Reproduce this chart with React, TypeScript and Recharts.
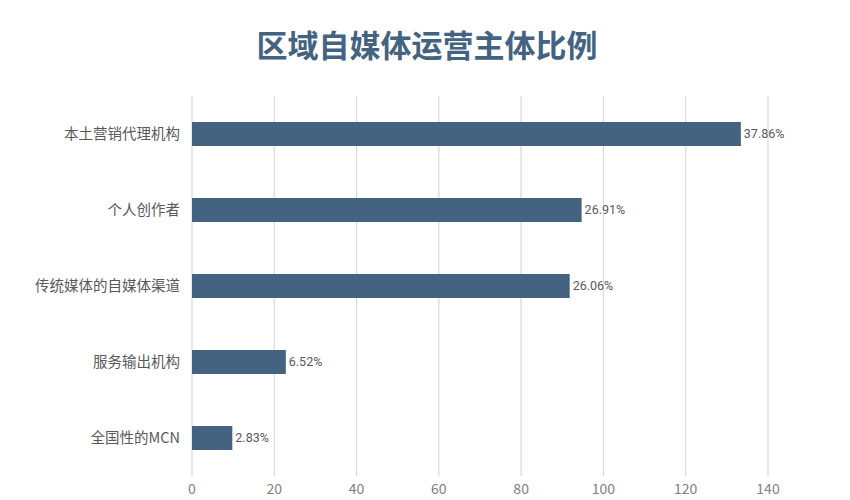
import { Bar, BarChart, CartesianGrid, LabelList, XAxis, YAxis } from "recharts";

const categories = ["本土营销代理机构", "个人创作者", "传统媒体的自媒体渠道", "服务输出机构", "全国性的MCN"];
const barValues = [133.4, 94.7, 91.8, 22.8, 9.8];
const shares = [37.86, 26.91, 26.06, 6.52, 2.83];
const xTicks = [0, 20, 40, 60, 80, 100, 120, 140];

const rows = categories.map((name, i) => ({ name, value: barValues[i], share: shares[i] }));

const FONT = '"Noto Sans CJK SC", "Noto Sans", sans-serif';

export default function App() {
  return (
    <div style={{ position: "absolute", left: 0, top: 0, width: 850, height: 500, background: "#fff", fontFamily: FONT }}>
      <div
        style={{
          position: "absolute",
          left: 0,
          top: 22,
          width: 854,
          textAlign: "center",
          fontSize: 31,
          fontWeight: 700,
          color: "#436380",
          lineHeight: "44px",
        }}
      >
        区域自媒体运营主体比例
      </div>
      <div style={{ position: "absolute", left: 0, top: 0 }}>
        <BarChart
          width={850}
          height={500}
          data={rows}
          layout="vertical"
          margin={{ top: 96, right: 82, bottom: 0, left: 0 }}
          barCategoryGap={52}
        >
          <CartesianGrid horizontal={false} stroke="#d9d9d9" strokeWidth={1.2} />
          <XAxis
            type="number"
            domain={[0, 140]}
            ticks={xTicks}
            height={24}
            axisLine={false}
            tickLine={false}
            tickMargin={2}
            tick={{ fontSize: 14, fill: "#7f7f7f", fontFamily: FONT }}
          />
          <YAxis
            type="category"
            dataKey="name"
            width={192}
            axisLine={false}
            tickLine={false}
            tickMargin={6}
            tick={{ fontSize: 14.5, fill: "#595959", fontFamily: FONT }}
          />
          <Bar dataKey="value" fill="#436380" barSize={24} isAnimationActive={false}>
            <LabelList
              dataKey="share"
              position="right"
              offset={3}
              formatter={(v: number) => `${v.toFixed(2)}%`}
              style={{ fontSize: 12.5, fill: "#595959", fontFamily: "Roboto, sans-serif" }}
            />
          </Bar>
        </BarChart>
      </div>
    </div>
  );
}
